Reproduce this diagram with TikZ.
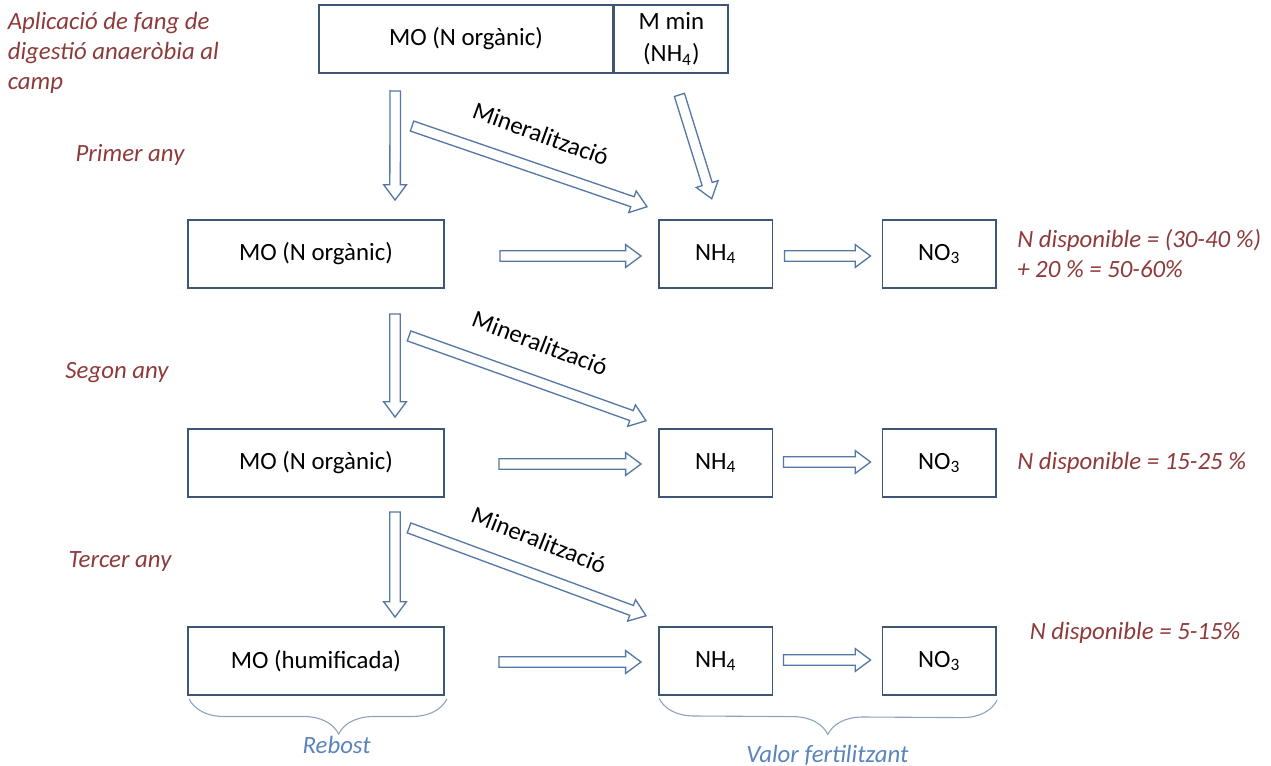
\documentclass[tikz,border=0pt]{standalone}
\usepackage{fontspec}
\setmainfont{Carlito}
\usetikzlibrary{positioning,calc,decorations.pathreplacing}
\definecolor{FangBox}{HTML}{3E5674}
\definecolor{FangArrow}{HTML}{5577A6}
\definecolor{FangRed}{HTML}{8E3A3A}
\definecolor{FangBlue}{HTML}{5A84BC}
\definecolor{FangBrace}{HTML}{8DA2C0}
\newcommand{\fangsize}{\fontsize{11.3}{13.7}\selectfont}
\newcommand{\NHq}{NH\textsubscript{4}}
\newcommand{\NOt}{NO\textsubscript{3}}

\begin{document}
\begin{tikzpicture}[x=0.016cm,y=-0.016cm,
    box/.style={draw=FangBox,line width=0.8pt,minimum height=1.09cm,align=center,font=\fangsize},
    mobox/.style={box,minimum width=4.1cm},
    nbox/.style={box,minimum width=1.82cm,minimum height=1.1cm},
    note/.style={FangRed,font=\fangsize\itshape,align=left},
    bluelbl/.style={FangBlue,font=\fangsize\itshape},
    curly/.style={decorate,decoration={brace,amplitude=16pt,aspect=#1},draw=FangBrace,line width=0.5pt},
    curly/.default=0.5,
    % hollow block arrow between two points
    blockarr/.style={draw=FangArrow,line width=0.6pt,fill=white,
      to path={let \p1=(\tikztostart), \p2=(\tikztotarget),
        \n1={atan2(\y2-\y1,\x2-\x1)}, \n2={veclen(\x2-\x1,\y2-\y1)-7pt} in
        ($(\p1)+(\n1+90:2.4pt)$) -- ($(\p1)+(\n1:\n2)+(\n1+90:2.4pt)$)
        -- ($(\p1)+(\n1:\n2)+(\n1+90:5.2pt)$) -- (\p2)
        -- ($(\p1)+(\n1:\n2)+(\n1-90:5.2pt)$) -- ($(\p1)+(\n1:\n2)+(\n1-90:2.4pt)$)
        -- ($(\p1)+(\n1-90:2.4pt)$) -- cycle}},
    minlbl/.style={font=\fangsize}
  ]
    \useasboundingbox (0,0) rectangle (1271,766);

    % sludge applied to the field
    \node[mobox,minimum width=4.7cm] (topmo) at (466,39) {MO (N orgànic)};
    \node[nbox,minimum height=1.09cm,right=0pt of topmo,font=\fontsize{11.3}{14.6}\selectfont] (topmin) {M min\\(\NHq)};
    \node[note,anchor=west] (aplic) at (0,53) {Aplicació de fang de\\digestió anaeròbia al\\camp};

    % rows, one per year
    \node[mobox] (mo1) at (316,254) {MO (N orgànic)};
    \node[nbox,right=3.41cm of mo1] (nh1) {\NHq};
    \node[nbox,right=1.73cm of nh1] (no1) {\NOt};

    \node[mobox] (mo2) at (316,463) {MO (N orgànic)};
    \node[nbox,right=3.41cm of mo2] (nh2) {\NHq};
    \node[nbox,right=1.73cm of nh2] (no2) {\NOt};

    \node[mobox] (mo3) at (316,661) {MO (humificada)};
    \node[nbox,right=3.41cm of mo3] (nh3) {\NHq};
    \node[nbox,right=1.73cm of nh3] (no3) {\NOt};

    \node[note] (any1) at (130,155) {Primer any};
    \node[note] (any2) at (117,373) {Segon any};
    \node[note] (any3) at (120,562) {Tercer any};

    \node[note,right=0.2cm of no1] (disp1) {N disponible = (30-40 \%)\\+ 20 \% = 50-60\%};
    \node[note,right=0.2cm of no2] (disp2) {N disponible = 15-25 \%};
    \node[note,anchor=west] (disp3) at (1022,633) {N disponible = 5-15\%};

    % first year
    \draw[blockarr] ($(topmo.south west)+(77,17)$) to ($(mo1.north west)+(208,-19)$);
    \draw[blockarr] ($(mo1.north west)+(225,-93)$) to ($(nh1.north west)+(-11,-12)$);
    \draw[blockarr] ($(topmin.south)+(8,21)$) to ($(nh1.north)+(-4,-20)$);
    \draw[blockarr] ($(mo1.east)+(55,2)$) to ($(nh1.west)+(-17,2)$);
    \draw[blockarr] ($(nh1.east)+(11,2)$) to ($(no1.west)+(-11,2)$);
    \node[minlbl,rotate=-20] (min1) at (541,134) {Mineralització};

    % second year
    \draw[blockarr] ($(mo1.south west)+(208,25)$) to ($(mo2.north west)+(208,-11)$);
    \draw[blockarr] ($(mo1.south west)+(222,47)$) to ($(nh2.north west)+(-12,-7)$);
    \draw[blockarr] ($(mo2.east)+(54,1)$) to ($(nh2.west)+(-17,1)$);
    \draw[blockarr] ($(nh2.east)+(10,-1)$) to ($(no2.west)+(-11,-1)$);
    \node[minlbl,rotate=-21] (min2) at (540,343) {Mineralització};

    % third year
    \draw[blockarr] ($(mo2.south west)+(208,14)$) to ($(mo3.north west)+(208,-9)$);
    \draw[blockarr] ($(mo2.south west)+(222,30)$) to ($(nh3.north west)+(-12,-10)$);
    \draw[blockarr] ($(mo3.east)+(54,1)$) to ($(nh3.west)+(-17,1)$);
    \draw[blockarr] ($(nh3.east)+(10,-1)$) to ($(no3.west)+(-11,-1)$);
    \node[minlbl,rotate=-21.5] (min3) at (539,540) {Mineralització};

    % what stays and what feeds the crop
    \draw[curly=0.42] ($(mo3.south east)+(2,3)$) -- ($(mo3.south west)+(2,3)$);
    \coordinate (rebmid) at ($(mo3.south west)!0.58!(mo3.south east)$);
    \node[bluelbl,below=0.52cm of rebmid] (rebost) {Rebost};
    \coordinate (valmid) at ($(nh3.south west)!0.5!(no3.south east)$);
    \draw[curly] ($(no3.south east)+(0,4)$) -- ($(nh3.south west)+(1,2)$);
    \node[bluelbl,below=0.66cm of valmid] (valor) {Valor fertilitzant};
  \end{tikzpicture}
\end{document}
